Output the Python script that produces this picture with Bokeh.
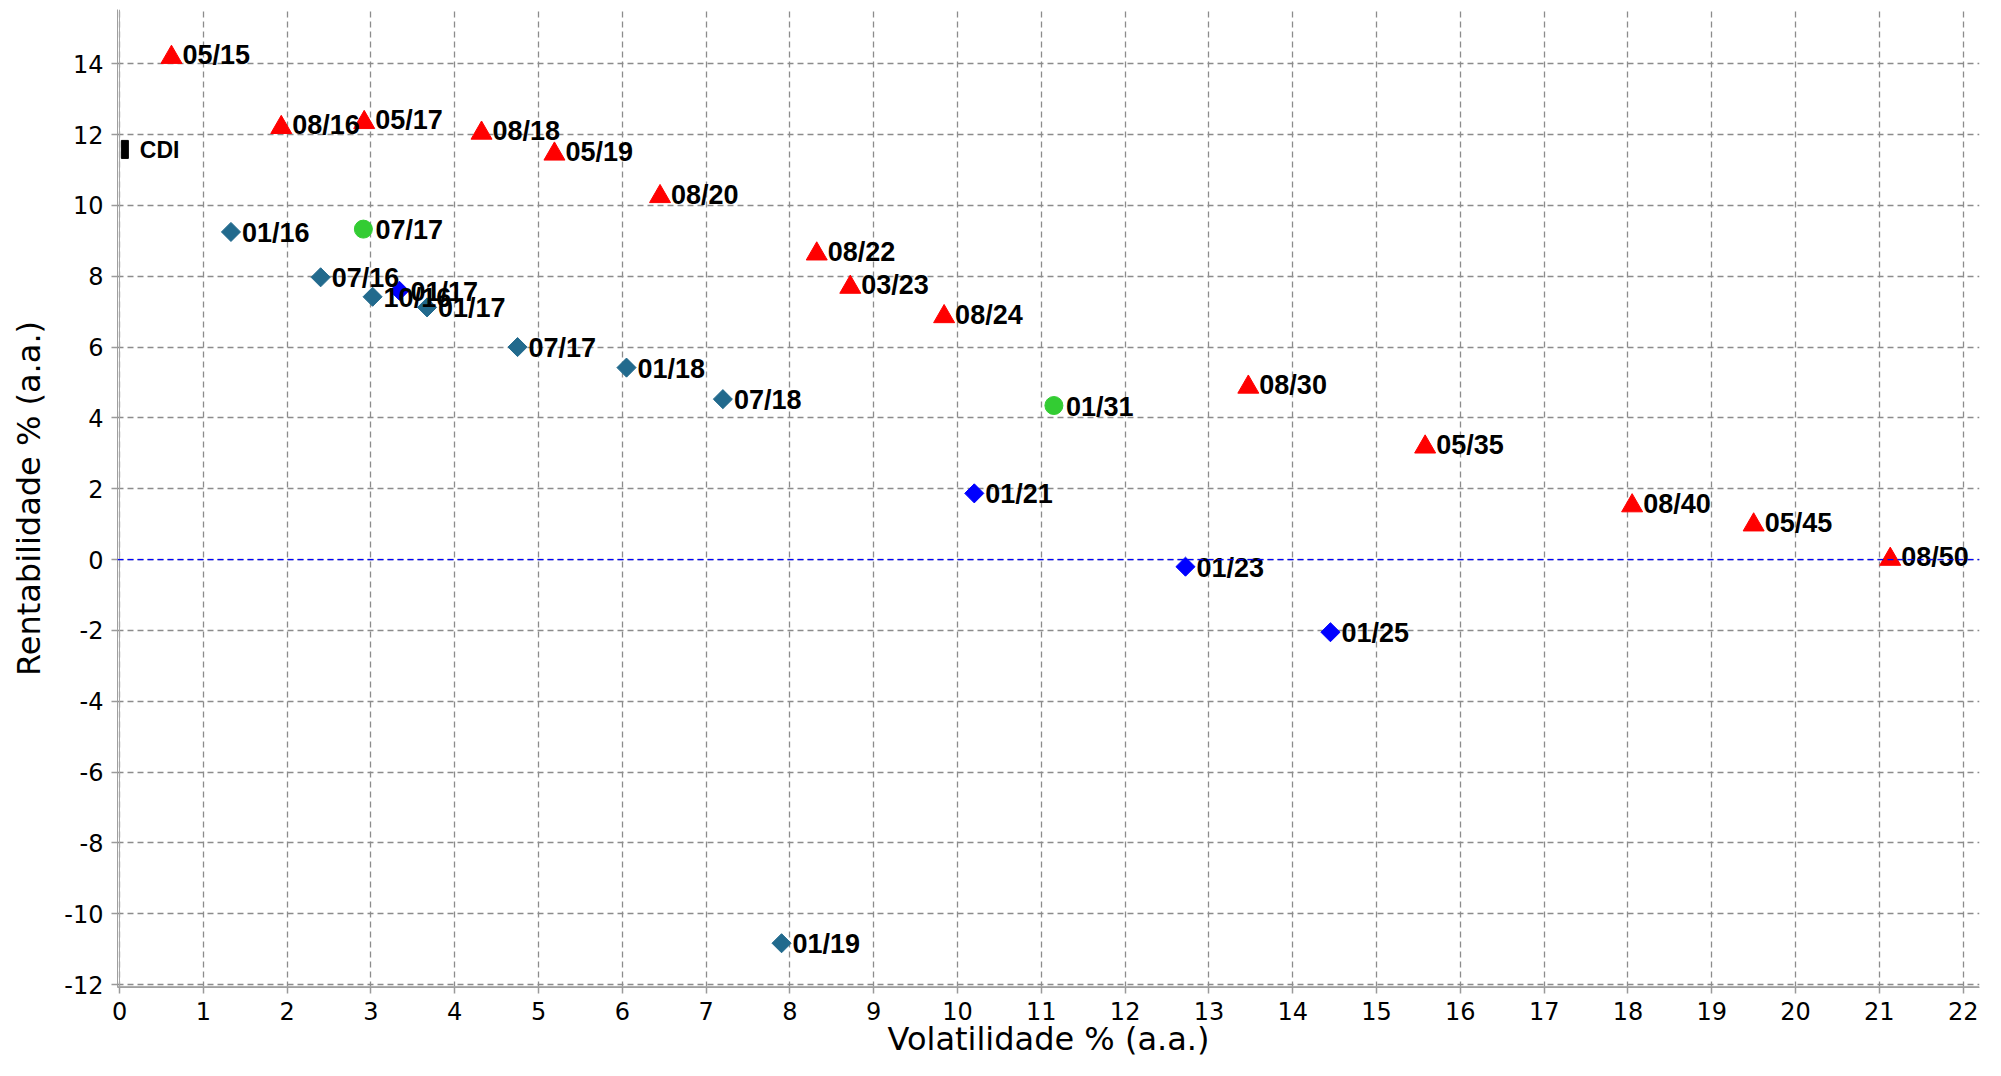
from bokeh.plotting import figure
from bokeh.models import ColumnDataSource, FixedTicker, Range1d, Span
from bokeh.core.properties import value
from bokeh.embed import file_html
from bokeh.resources import INLINE

# ---- data ----
red_labels = ["05/15", "08/16", "05/17", "08/18", "05/19", "08/20", "08/22", "03/23",
              "08/24", "08/30", "05/35", "08/40", "05/45", "08/50"]
red_vol = [0.62, 1.93, 2.92, 4.32, 5.19, 6.45, 8.32, 8.72, 9.84, 13.47, 15.58, 18.05, 19.50, 21.13]
red_ret = [14.18, 12.20, 12.34, 12.04, 11.45, 10.25, 8.63, 7.69, 6.86, 4.87, 3.18, 1.52, 0.98, 0.01]

green_labels = ["07/17", "01/31"]
green_vol = [2.91, 11.15]
green_ret = [9.33, 4.35]

teal_labels = ["01/16", "07/16", "10/16", "01/17", "07/17", "01/18", "07/18", "01/19"]
teal_vol = [1.33, 2.40, 3.02, 3.67, 4.75, 6.05, 7.20, 7.90]
teal_ret = [9.25, 7.97, 7.42, 7.12, 6.00, 5.42, 4.53, -10.83]

blue_labels = ["01/17", "01/21", "01/23", "01/25"]
blue_vol = [3.34, 10.20, 12.72, 14.45]
blue_ret = [7.59, 1.87, -0.20, -2.05]

cdi_labels = ["CDI"]
cdi_vol = [0.064]
cdi_ret = [11.58]

x_ticks = list(range(0, 23))
y_ticks = list(range(-12, 15, 2))
x_title = "Volatilidade % (a.a.)"
y_title = "Rentabilidade % (a.a.)"

# ---- figure ----
X0, X1 = -0.024, 22.195
Y0, Y1 = -12.08, 15.53
W, H = 1985, 1060
BL, BR, BT, BB = 117, 6, 9, 72
p = figure(width=W, height=H, output_backend="svg", toolbar_location=None,
           x_range=Range1d(X0, X1), y_range=Range1d(Y0, Y1),
           min_border_left=BL, min_border_right=BR, min_border_top=BT, min_border_bottom=BB)
p.outline_line_color = None
p.background_fill_color = "white"

for ax, ticks in ((p.xaxis[0], x_ticks), (p.yaxis[0], y_ticks)):
    ax.ticker = FixedTicker(ticks=ticks)
    ax.major_label_overrides = {t: str(t) for t in ticks}
    ax.axis_line_color = "#a0a0a0"
    ax.axis_line_width = 1
    ax.major_tick_line_color = "#9a9a9a"
    ax.major_tick_line_width = 1.5
    ax.major_tick_out = 6
    ax.major_tick_in = 0
    ax.minor_tick_line_color = None
    ax.major_label_text_font = "DejaVu Sans"
    ax.major_label_text_font_size = "24px"
    ax.major_label_text_color = "black"
    ax.major_label_standoff = 8
    ax.axis_label_text_font = "DejaVu Sans"
    ax.axis_label_text_font_size = "32px"
    ax.axis_label_text_font_style = "normal"
    ax.axis_label_text_color = "black"

p.xaxis.axis_label = x_title
p.xaxis.axis_label_standoff = -3
p.yaxis.axis_label = y_title
p.yaxis.axis_label_standoff = 13

p.xgrid.ticker = FixedTicker(ticks=x_ticks)
p.ygrid.ticker = FixedTicker(ticks=y_ticks)
for g in (p.xgrid[0], p.ygrid[0]):
    g.grid_line_color = "#8c8c8c"
    g.grid_line_width = 1.3
    g.grid_line_dash = "6 4"

# inner lines of the double axis
p.add_layout(Span(location=0, dimension="height", line_color="#a8a8a8", line_width=1))
p.add_layout(Span(location=-12.05, dimension="width", line_color="#a8a8a8", line_width=1))
# zero line
p.add_layout(Span(location=0, dimension="width", line_color="#0000ff", line_width=1.3,
                  line_dash="6 4"))

label_kw = dict(text_font=value("Liberation Sans"), text_font_style="bold",
                text_font_size="27px", text_color="black", text_baseline="middle",
                text_align="left")

# blue diamonds
src_b = ColumnDataSource(dict(x=blue_vol, y=blue_ret, t=blue_labels))
p.scatter("x", "y", source=src_b, marker="square", angle=0.785398, size=13.5,
          fill_color="#0000ff", line_color="#0000ff")
p.text("x", "y", text="t", source=src_b, x_offset=11, y_offset=1, **label_kw)

# teal diamonds
src_t = ColumnDataSource(dict(x=teal_vol, y=teal_ret, t=teal_labels))
p.scatter("x", "y", source=src_t, marker="square", angle=0.785398, size=13.5,
          fill_color="#226a8d", line_color="#226a8d")
p.text("x", "y", text="t", source=src_t, x_offset=11, y_offset=1, **label_kw)

# green circles
src_g = ColumnDataSource(dict(x=green_vol, y=green_ret, t=green_labels))
p.scatter("x", "y", source=src_g, marker="circle", size=18,
          fill_color="#33cc33", line_color="#33cc33")
p.text("x", "y", text="t", source=src_g, x_offset=12, y_offset=1, **label_kw)

# red triangles
src_r = ColumnDataSource(dict(x=red_vol, y=red_ret, t=red_labels))
p.scatter("x", "y", source=src_r, marker="triangle", size=21,
          fill_color="#ff0000", line_color="#ff0000")
p.text("x", "y", text="t", source=src_r, x_offset=11, y_offset=-2, **label_kw)

# CDI
src_c = ColumnDataSource(dict(x=cdi_vol, y=cdi_ret, t=cdi_labels))
p.rect("x", "y", width=7, height=18, width_units="screen", height_units="screen",
       source=src_c, fill_color="black", line_color="black")
p.text("x", "y", text="t", source=src_c, x_offset=15, y_offset=1,
       text_font=value("Liberation Sans"), text_font_style="bold", text_font_size="23px",
       text_color="black", text_baseline="middle", text_align="left")

open("out.html", "w").write(file_html(p, INLINE))
